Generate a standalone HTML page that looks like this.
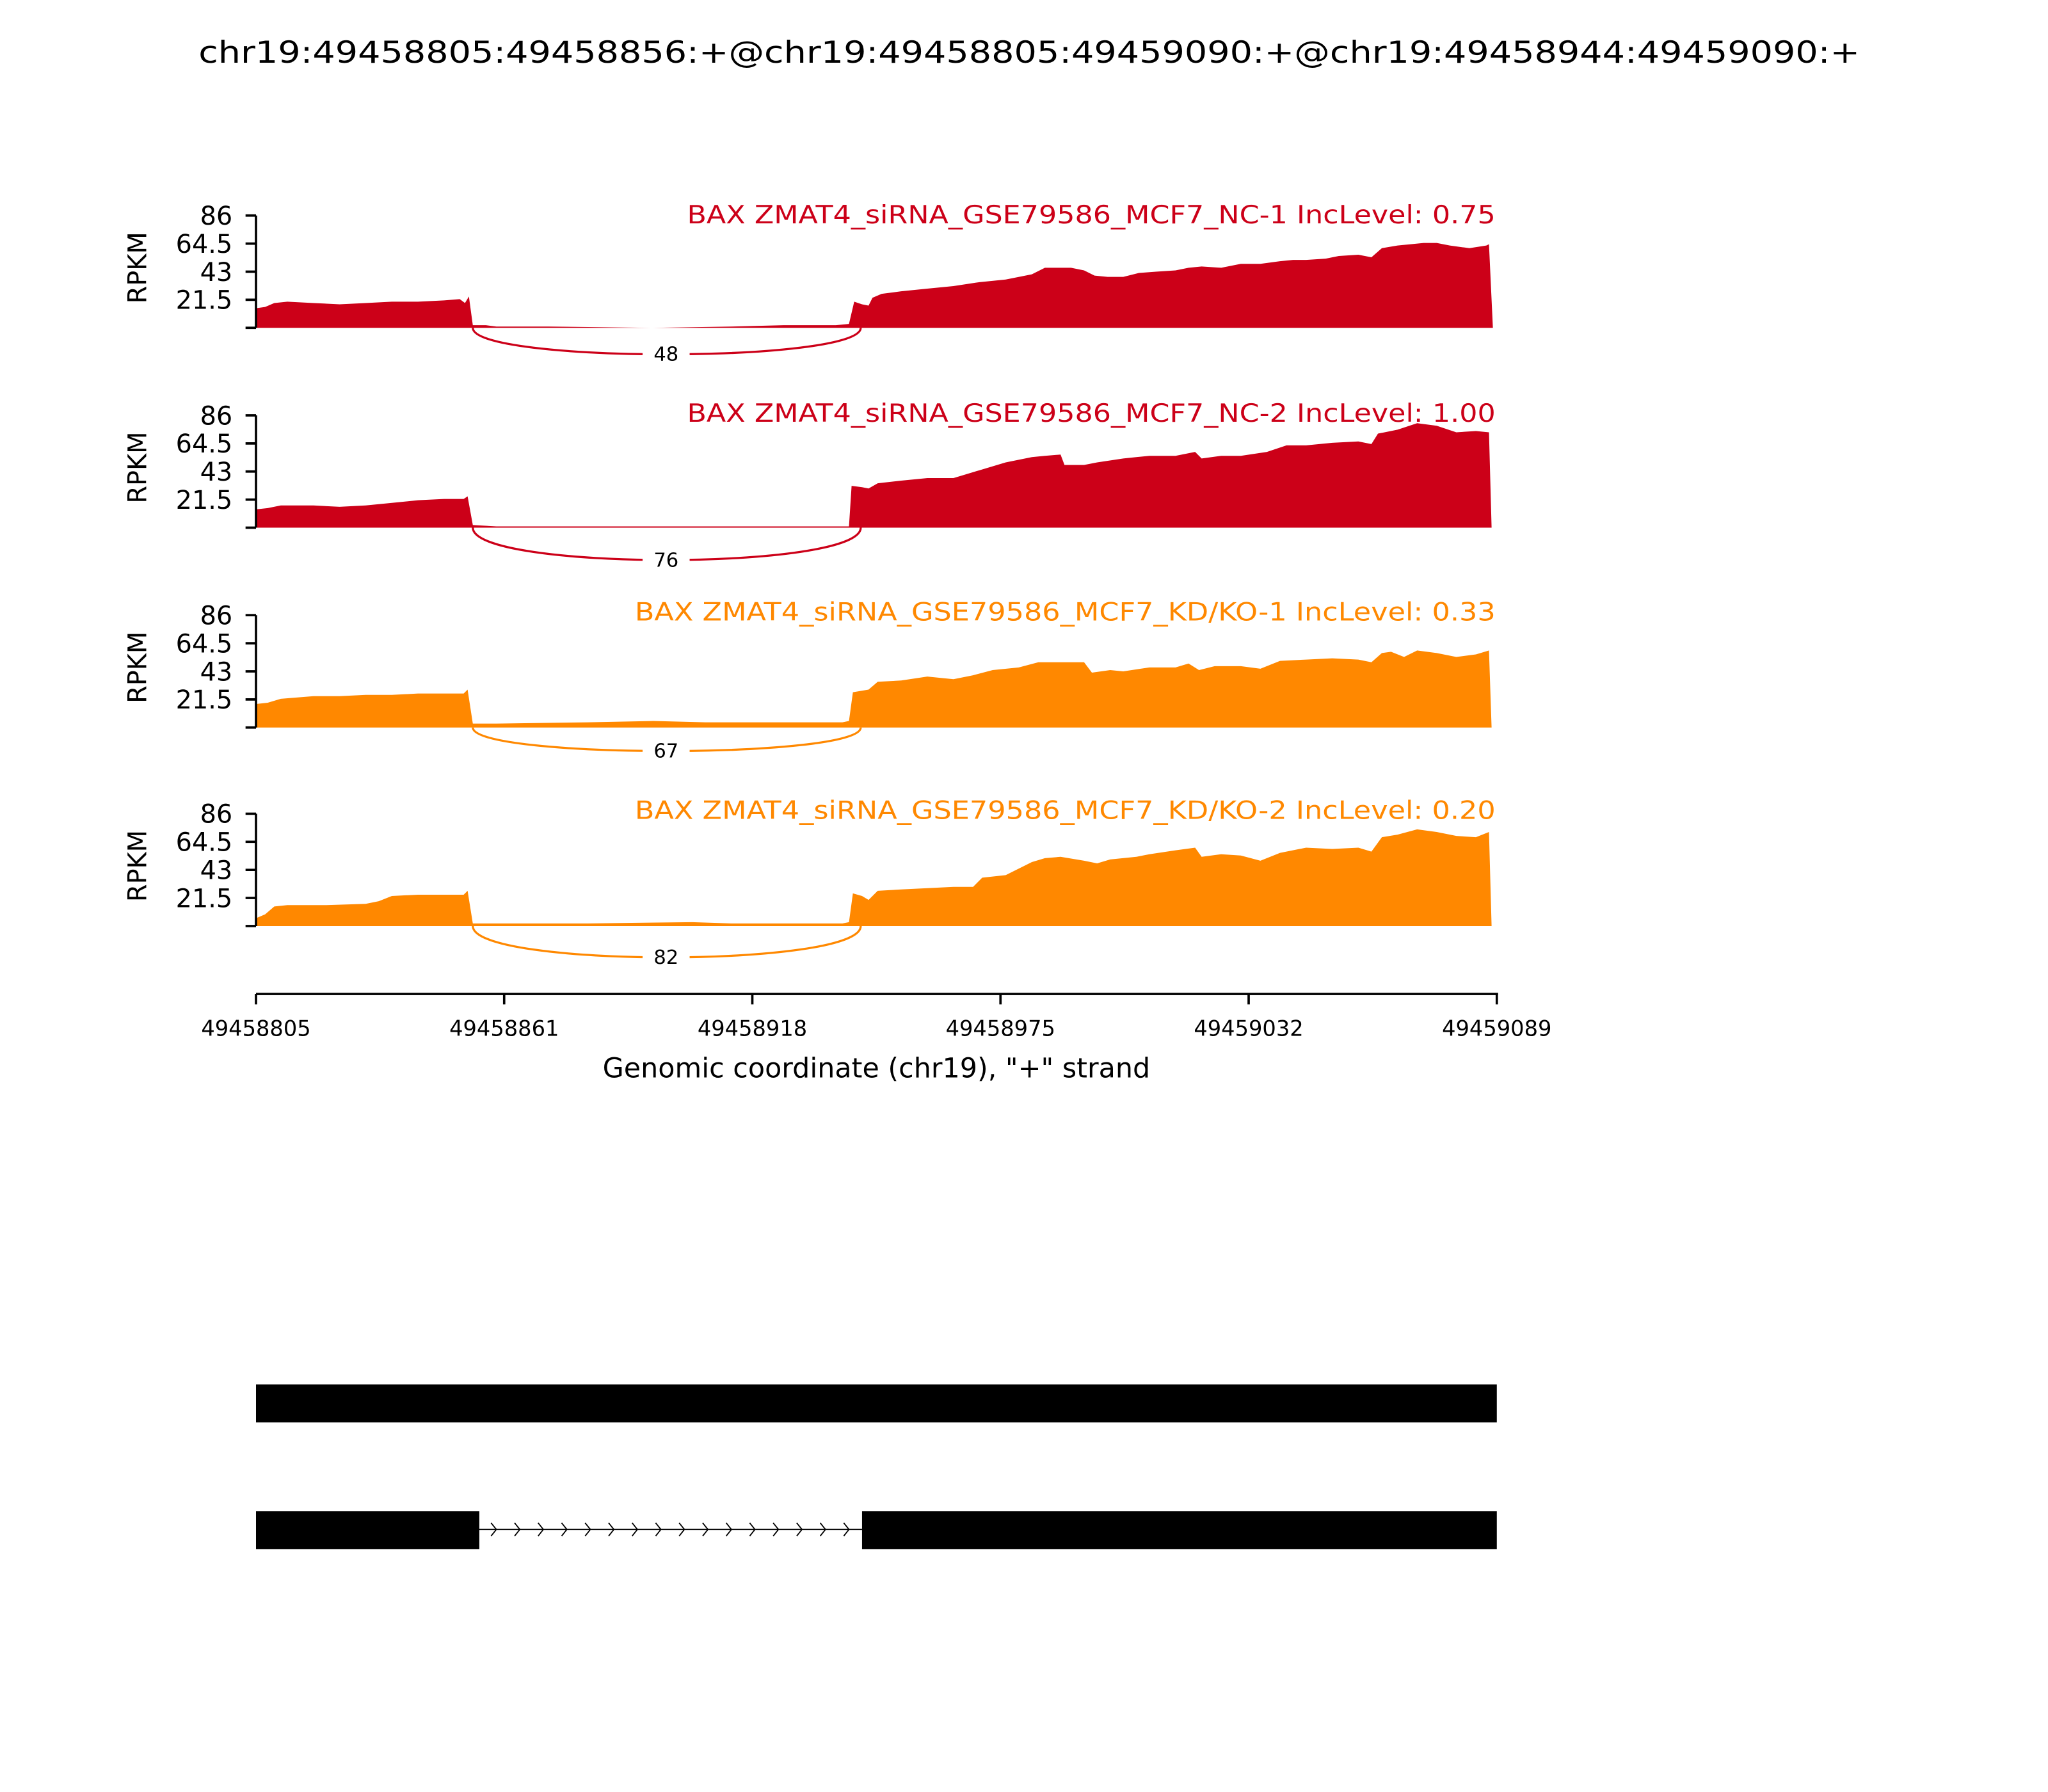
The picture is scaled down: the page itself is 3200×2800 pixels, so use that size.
<!DOCTYPE html>
<html><head><meta charset="utf-8"><style>html,body{margin:0;padding:0;background:#fff}svg{display:block}</style></head>
<body>
<svg width="3200" height="2800" viewBox="0 0 1568 1372" xmlns="http://www.w3.org/2000/svg" font-family="'DejaVu Sans','Liberation Sans',sans-serif">
<rect width="1568" height="1372" fill="#fff"/>
<text x="788" y="48" font-size="23" text-anchor="middle" textLength="1272" lengthAdjust="spacingAndGlyphs">chr19:49458805:49458856:+@chr19:49458805:49459090:+@chr19:49458944:49459090:+</text>

<!-- Panel 1 -->
<g>
<path fill="#cc0018" d="M196,251 L196,236 L203,235 L210,232 L220,231 L240,232 L260,233 L280,232 L300,231 L320,231 L340,230 L352,229 L356,232 L359,227 L362,249 L372,249 L380,250 L420,250 L500,251 L560,250 L600,249 L640,249 L650,248 L654,231 L660,233 L665,234 L668,228 L675,225 L690,223 L710,221 L730,219 L750,216 L770,214 L790,210 L800,205 L810,205 L820,205 L830,207 L838,211 L848,212 L860,212 L872,209 L885,208 L900,207 L910,205 L920,204 L935,205 L950,202 L965,202 L980,200 L990,199 L1000,199 L1015,198 L1025,196 L1040,195 L1050,197 L1058,190 L1070,188 L1090,186 L1100,186 L1110,188 L1125,190 L1138,188 L1140,187 L1143,251 Z"/>
<path d="M362,251 C362,278 659,278 659,251" fill="none" stroke="#cc0018" stroke-width="1.6"/>
<rect x="492" y="262" width="36" height="18" fill="#fff"/>
<text x="510" y="276" font-size="15" text-anchor="middle">48</text>
<text x="1145" y="171" font-size="19" fill="#cc0018" text-anchor="end" textLength="619" lengthAdjust="spacingAndGlyphs">BAX ZMAT4_siRNA_GSE79586_MCF7_NC-1 IncLevel: 0.75</text>
</g>
<!-- Panel 2 -->
<g>
<path fill="#cc0018" d="M196,404 L196,390 L205,389 L215,387 L240,387 L260,388 L280,387 L300,385 L320,383 L340,382 L355,382 L358,380 L362,402 L380,403 L450,403 L550,403 L640,403 L650,403 L652,372 L660,373 L665,374 L672,370 L690,368 L710,366 L730,366 L750,360 L770,354 L790,350 L800,349 L812,348 L815,356 L830,356 L840,354 L860,351 L880,349 L900,349 L915,346 L920,351 L935,349 L950,349 L970,346 L985,341 L1000,341 L1020,339 L1040,338 L1050,340 L1055,332 L1070,329 L1085,324 L1100,326 L1115,331 L1130,330 L1140,331 L1142,404 Z"/>
<path d="M362,404 C362,437 659,437 659,404" fill="none" stroke="#cc0018" stroke-width="1.6"/>
<rect x="492" y="420" width="36" height="18" fill="#fff"/>
<text x="510" y="434" font-size="15" text-anchor="middle">76</text>
<text x="1145" y="323" font-size="19" fill="#cc0018" text-anchor="end" textLength="619" lengthAdjust="spacingAndGlyphs">BAX ZMAT4_siRNA_GSE79586_MCF7_NC-2 IncLevel: 1.00</text>
</g>
<!-- Panel 3 -->
<g>
<path fill="#ff8800" d="M196,557 L196,539 L205,538 L215,535 L240,533 L260,533 L280,532 L300,532 L320,531 L340,531 L355,531 L358,528 L362,554 L380,554 L450,553 L500,552 L540,553 L600,553 L645,553 L650,552 L653,530 L665,528 L672,522 L690,521 L710,518 L730,520 L745,517 L760,513 L780,511 L795,507 L810,507 L830,507 L836,515 L850,513 L860,514 L880,511 L900,511 L910,508 L918,513 L930,510 L950,510 L965,512 L980,506 L1000,505 L1020,504 L1040,505 L1050,507 L1058,500 L1065,499 L1075,503 L1085,498 L1100,500 L1115,503 L1130,501 L1140,498 L1142,557 Z"/>
<path d="M362,557 C362,581 659,581 659,557" fill="none" stroke="#ff8800" stroke-width="1.6"/>
<rect x="492" y="566" width="36" height="18" fill="#fff"/>
<text x="510" y="580" font-size="15" text-anchor="middle">67</text>
<text x="1145" y="475" font-size="19" fill="#ff8800" text-anchor="end" textLength="659" lengthAdjust="spacingAndGlyphs">BAX ZMAT4_siRNA_GSE79586_MCF7_KD/KO-1 IncLevel: 0.33</text>
</g>
<!-- Panel 4 -->
<g>
<path fill="#ff8800" d="M196,709 L196,703 L203,700 L210,694 L220,693 L250,693 L280,692 L290,690 L300,686 L320,685 L340,685 L355,685 L358,682 L362,707 L380,707 L450,707 L530,706 L560,707 L600,707 L645,707 L650,706 L653,684 L660,686 L665,689 L672,682 L690,681 L710,680 L730,679 L745,679 L752,672 L770,670 L790,660 L800,657 L812,656 L830,659 L840,661 L850,658 L870,656 L880,654 L900,651 L915,649 L920,656 L935,654 L950,655 L965,659 L980,653 L1000,649 L1020,650 L1040,649 L1050,652 L1058,641 L1070,639 L1085,635 L1100,637 L1115,640 L1130,641 L1140,637 L1142,709 Z"/>
<path d="M362,709 C362,741 659,741 659,709" fill="none" stroke="#ff8800" stroke-width="1.6"/>
<rect x="492" y="724" width="36" height="18" fill="#fff"/>
<text x="510" y="738" font-size="15" text-anchor="middle">82</text>
<text x="1145" y="627" font-size="19" fill="#ff8800" text-anchor="end" textLength="659" lengthAdjust="spacingAndGlyphs">BAX ZMAT4_siRNA_GSE79586_MCF7_KD/KO-2 IncLevel: 0.20</text>
</g>

<!-- Y axes -->
<g stroke="#000" stroke-width="1.8" fill="none">
<path d="M196,165V251M188,165H196M188,186.5H196M188,208H196M188,229.5H196M188,251H196"/>
<path d="M196,318V404M188,318H196M188,339.5H196M188,361H196M188,382.5H196M188,404H196"/>
<path d="M196,471V557M188,471H196M188,492.5H196M188,514H196M188,535.5H196M188,557H196"/>
<path d="M196,623V709M188,623H196M188,644.5H196M188,666H196M188,687.5H196M188,709H196"/>
</g>
<g font-size="19.5" text-anchor="end">
<text x="178" y="172">86</text><text x="178" y="193.5">64.5</text><text x="178" y="215">43</text><text x="178" y="236.5">21.5</text>
<text x="178" y="325">86</text><text x="178" y="346.5">64.5</text><text x="178" y="368">43</text><text x="178" y="389.5">21.5</text>
<text x="178" y="478">86</text><text x="178" y="499.5">64.5</text><text x="178" y="521">43</text><text x="178" y="542.5">21.5</text>
<text x="178" y="630">86</text><text x="178" y="651.5">64.5</text><text x="178" y="673">43</text><text x="178" y="694.5">21.5</text>
</g>
<g font-size="19.5" text-anchor="middle">
<text transform="translate(112,205) rotate(-90)">RPKM</text>
<text transform="translate(112,358) rotate(-90)">RPKM</text>
<text transform="translate(112,511) rotate(-90)">RPKM</text>
<text transform="translate(112,663) rotate(-90)">RPKM</text>
</g>

<!-- X axis -->
<g stroke="#000" stroke-width="1.8" fill="none">
<path d="M196,761H1147M196,761V769M386,761V769M576,761V769M766,761V769M956,761V769M1146,761V769"/>
</g>
<g font-size="16.5" text-anchor="middle">
<text x="196" y="793">49458805</text><text x="386" y="793">49458861</text><text x="576" y="793">49458918</text>
<text x="766" y="793">49458975</text><text x="956" y="793">49459032</text><text x="1146" y="793">49459089</text>
</g>
<text x="671" y="825" font-size="21" text-anchor="middle">Genomic coordinate (chr19), "+" strand</text>

<!-- Gene models -->
<rect x="196" y="1060" width="950" height="29" fill="#000"/>
<rect x="196" y="1157" width="171" height="29" fill="#000"/>
<rect x="660" y="1157" width="486" height="29" fill="#000"/>
<line x1="367" y1="1171" x2="660" y2="1171" stroke="#000" stroke-width="1"/>
<path fill="none" stroke="#000" stroke-width="0.9" d="M376,1166l4,5l-4,5M394,1166l4,5l-4,5M412,1166l4,5l-4,5M430,1166l4,5l-4,5M448,1166l4,5l-4,5M466,1166l4,5l-4,5M484,1166l4,5l-4,5M502,1166l4,5l-4,5M520,1166l4,5l-4,5M538,1166l4,5l-4,5M556,1166l4,5l-4,5M574,1166l4,5l-4,5M592,1166l4,5l-4,5M610,1166l4,5l-4,5M628,1166l4,5l-4,5M646,1166l4,5l-4,5"/>
</svg>
</body></html>
